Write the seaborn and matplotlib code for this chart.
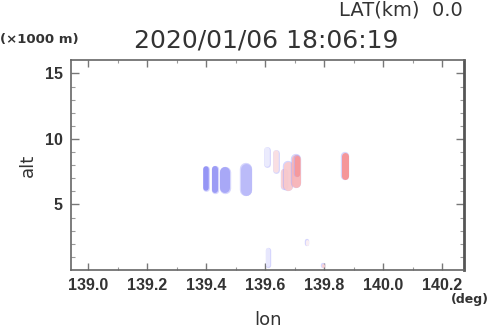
import numpy as np
import pandas as pd
import matplotlib
matplotlib.use("Agg")
import matplotlib.pyplot as plt
from matplotlib.colors import LinearSegmentedColormap
import seaborn as sns

# ---- data ----
blob_lon = [139.399, 139.428, 139.463, 139.535, 139.606, 139.636, 139.665, 139.676,
            139.704, 139.708, 139.870, 139.609, 139.741, 139.795]
blob_alt_bottom = [6.05, 5.9, 5.9, 5.7, 7.9, 7.4, 6.2, 6.1, 6.3, 7.1, 6.9, 0.25, 1.9, 0.2]
blob_alt_top = [7.9, 7.9, 7.85, 8.1, 9.33, 9.1, 7.7, 8.3, 8.8, 8.7, 8.94, 1.7, 2.3, 0.5]
blob_value = [-0.8, -0.75, -0.65, -0.5, -0.12, 0.2, 0.3, 0.35, 0.5, 0.7, 0.75, -0.15, 0.1, 0.3]
blob_width_px = [5.5, 6, 10, 11, 5.5, 5.5, 6, 9, 9, 5, 7, 4, 3, 3]

title = "2020/01/06 18:06:19"
lat_text = "LAT(km)  0.0"
xticks = [139.0, 139.2, 139.4, 139.6, 139.8, 140.0, 140.2]
yticks = [5, 10, 15]

W, H, DPI = 4.9, 3.31, 100
sns.set_style("white")
plt.rcParams["font.family"] = ["DejaVu Sans"]

fig = plt.figure(figsize=(W, H), dpi=DPI)
ax = fig.add_axes([0.1455, 0.1843, 0.8021, 0.6335])
xlim = (138.942, 140.275)
ylim = (0, 16)
ax.set_xlim(*xlim)
ax.set_ylim(*ylim)

cmap = LinearSegmentedColormap.from_list(
    "bw", [(0.45, 0.45, 0.95), (1, 1, 1), (0.97, 0.42, 0.42)])

ax_h_px = 0.6335 * H * DPI
km_per_px = (ylim[1] - ylim[0]) / ax_h_px

df = pd.DataFrame({"lon": blob_lon, "bot": blob_alt_bottom, "top": blob_alt_top,
                   "val": blob_value, "wpx": blob_width_px})

for i, r in df.iterrows():
    half = r.wpx / 2 * km_per_px
    b = r.bot + half
    t = max(r.top - half, b + 0.01)
    seg = pd.DataFrame({"lon": [r.lon, r.lon], "alt": [b, t]})
    col = cmap((r.val + 1) / 2)
    # faint blue outline
    sns.lineplot(data=seg, x="lon", y="alt", ax=ax, estimator=None, sort=False,
                 color=(0.6, 0.6, 0.98), alpha=0.4,
                 lw=(r.wpx + 1.4) * 72 / DPI, solid_capstyle="round")
    sns.lineplot(data=seg, x="lon", y="alt", ax=ax, estimator=None, sort=False,
                 color=col, alpha=0.9,
                 lw=r.wpx * 72 / DPI, solid_capstyle="round")

ax.set_xlabel("")
ax.set_ylabel("")
ax.set_xticks(xticks)
ax.set_xticklabels([f"{v:.1f}" for v in xticks])
ax.set_yticks(yticks)
ax.set_yticklabels([str(v) for v in yticks])
ax.set_xticks(np.arange(139.1, 140.25, 0.2), minor=True)
ax.set_yticks([v for v in range(1, 16) if v not in yticks], minor=True)

tick_font = dict(family="Liberation Sans", weight="bold", size=11.5)
for lab in ax.get_xticklabels() + ax.get_yticklabels():
    lab.set_fontproperties(matplotlib.font_manager.FontProperties(**tick_font))
    lab.set_color("#333333")

ax.tick_params(axis="x", which="major", direction="in", length=5, width=1,
               colors="#777777", top=True, bottom=True, pad=6, labelcolor="#333333")
ax.tick_params(axis="x", which="minor", direction="in", length=2.5, width=0.8,
               colors="#999999", top=True, bottom=True)
ax.tick_params(axis="y", which="major", direction="in", length=6, width=1,
               colors="#777777", left=True, right=True, pad=6, labelcolor="#333333")
ax.tick_params(axis="y", which="minor", direction="in", length=3, width=0.8,
               colors="#999999", left=True, right=True)

for s in ["left", "bottom", "top"]:
    ax.spines[s].set_color("#666666")
    ax.spines[s].set_linewidth(1.2)
ax.spines["right"].set_color("#555555")
ax.spines["right"].set_linewidth(2.0)

fig.text(266.5 / 490, 1 - 40 / 331, title, ha="center", va="center",
         fontsize=18, color="#333333")
fig.text(463 / 490, 1 - 1 / 331, lat_text, ha="right", va="top",
         fontsize=14, color="#333333")
fig.text(0 / 490, 1 - 39 / 331, "(×1000 m)", ha="left", va="center",
         fontsize=9.5, fontweight="bold", color="#333333")
fig.text(489 / 490, 1 - 299 / 331, "(deg)", ha="right", va="center",
         fontsize=9, fontweight="bold", color="#333333")
fig.text(268 / 490, 1 - 320 / 331, "lon", ha="center", va="center",
         fontsize=13, color="#333333")
fig.text(28 / 490, 1 - 165 / 331, "alt", ha="center", va="center",
         fontsize=13, color="#333333", rotation=90)

fig.savefig("out.png", dpi=DPI)
